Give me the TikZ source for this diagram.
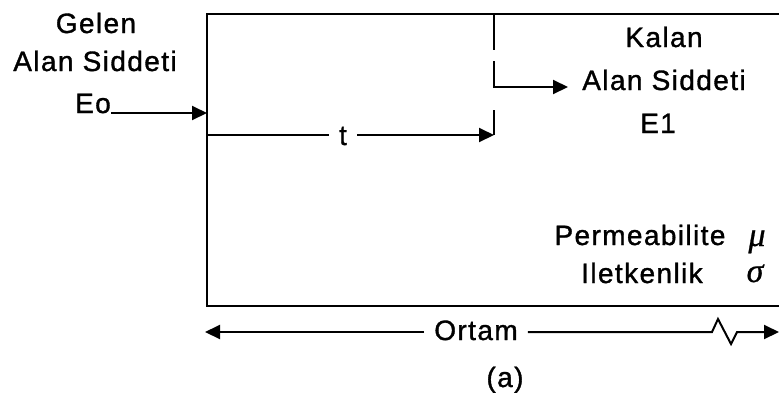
\documentclass[tikz,border=0pt]{standalone}
\usepackage{fontspec}
\setmainfont{Liberation Sans}[LetterSpace=5,FakeBold=1.2]
\newfontfamily\grkfont{Liberation Serif}[FakeBold=0.8]
\usetikzlibrary{arrows.meta}
\begin{document}
\begin{tikzpicture}[x=1pt,y=-1pt,
  lbl/.style={inner sep=0pt,anchor=base,font=\fontsize{28}{34}\selectfont},
  grk/.style={inner sep=0pt,anchor=base,font=\grkfont\itshape\fontsize{34}{40}\selectfont},
  wall/.style={line width=2.4pt,line cap=rect},
  wire/.style={line width=2pt},
  arr/.style={wire,-{Triangle[length=15pt,width=14pt]}},
  ]
\useasboundingbox (0,0) rectangle (779,400);

% medium outline (open to the right)
\coordinate (tr) at (779,14);
\coordinate (tl) at (207,14);
\coordinate (bl) at (207,306);
\coordinate (br) at (779,306);
\draw[wall] (tr) -- (tl) -- (bl) -- (br);

% incoming field
\node[lbl] (gelen) at (96,33) {Gelen};
\node[lbl] (alanL) at (95,71) {Alan Siddeti};
\node[lbl,anchor=base east] (eo) at (111,113) {Eo};
\coordinate (inL) at (207,113);
\draw[arr] (eo.base east) -- (inL);

% thickness t
\node[lbl,inner xsep=10pt] (t) at (343,145) {t};
\coordinate (tstart) at (207,135);
\coordinate (tend) at (494,135);
\draw[wire] (tstart) -- (tstart -| t.west);
\draw[arr] (tstart -| t.east) -- (tend);

% inner boundary marks
\coordinate (s1a) at (494,14);
\coordinate (s1b) at (494,50);
\coordinate (s2a) at (494,61);
\coordinate (kend) at (568,87);
\coordinate (s3a) at (494,110);
\draw[wire] (s1a) -- (s1b);
\draw[arr] (s2a) |- (kend);
\draw[wire] (s3a) -- (tend);

% transmitted field
\node[lbl] (kalan) at (664,47) {Kalan};
\node[lbl] (alanR) at (664,90) {Alan Siddeti};
\node[lbl] (e1) at (658,133) {E1};

% material properties
\node[lbl] (perm) at (640,245) {Permeabilite};
\node[lbl] (ilet) at (642,283) {Iletkenlik};
\node[grk] (mu) at (757,246) {μ};
\node[grk] (sigma) at (755,282) {σ};

% medium extent
\node[lbl,inner xsep=10pt] (ortam) at (476,340) {Ortam};
\coordinate (oL) at (205,332);
\coordinate (oR) at (779,332);
\draw[arr] (oL -| ortam.west) -- (oL);
\draw[arr] (oL -| ortam.east) -- (712,332) -- (718,319) -- (731,344) -- (737,332) -- (oR);

\node[lbl] (cap) at (505,387) {(a)};
\end{tikzpicture}
\end{document}
